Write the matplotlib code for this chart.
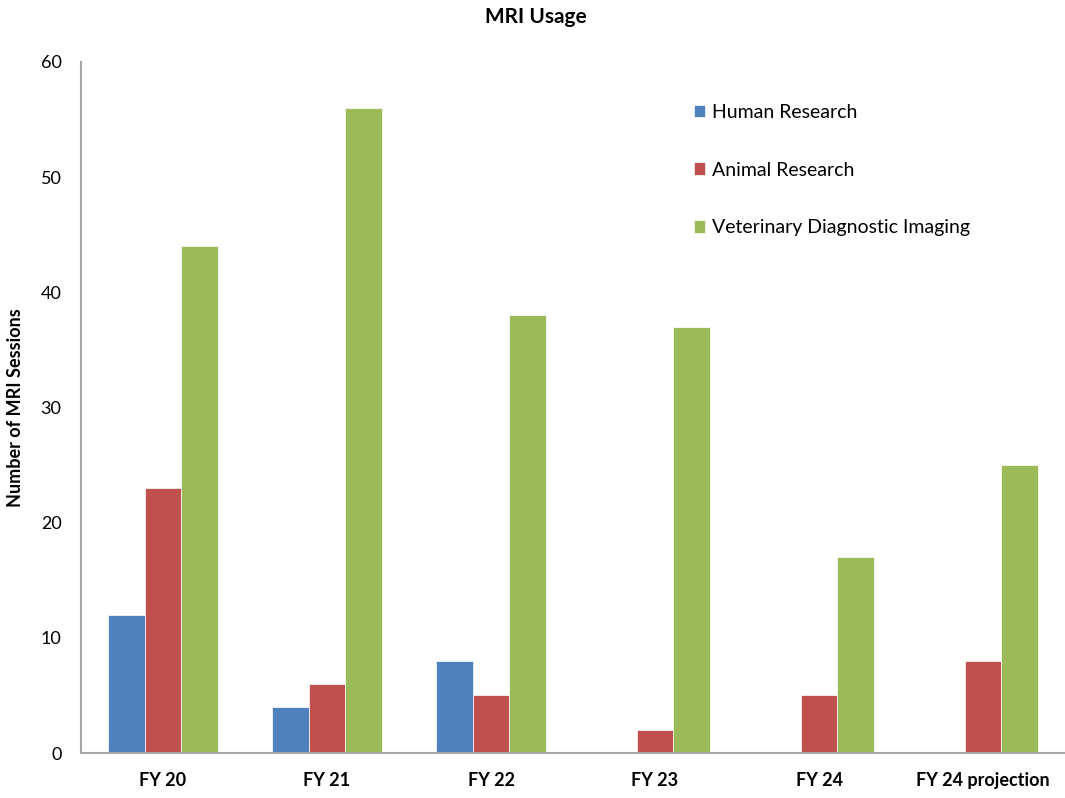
import numpy as np
import matplotlib.pyplot as plt

plt.rcParams['font.family'] = ['Lato', 'DejaVu Sans']

years = ['FY 20', 'FY 21', 'FY 22', 'FY 23', 'FY 24', 'FY 24 projection']
human = [12, 4, 8, 0, 0, 0]
animal = [23, 6, 5, 2, 5, 8]
vet = [44, 56, 38, 37, 17, 25]

series = [('Human Research', human, '#4F81BD'),
          ('Animal Research', animal, '#C0504D'),
          ('Veterinary Diagnostic Imaging', vet, '#9BBB59')]

fig = plt.figure(figsize=(10.65, 7.98), dpi=100)
ax = fig.add_axes([81/1065, 45/798, 984/1065, 691/798])

x = np.arange(len(years))
w = 0.224
for i, (name, vals, col) in enumerate(series):
    ax.bar(x + (i - 1) * w, vals, w, color=col, label=name,
           edgecolor='white', linewidth=0.5)

ax.set_xlim(-0.5, len(years) - 0.5)
ax.set_ylim(0, 60)
ax.set_yticks(range(0, 61, 10))
ax.set_xticks(x)
ax.set_xticklabels(years, fontweight='bold', fontsize=13)
ax.tick_params(axis='y', labelsize=13, length=0, pad=14)
ax.tick_params(axis='x', length=0, pad=14)

for s in ['top', 'right']:
    ax.spines[s].set_visible(False)
for s in ['left', 'bottom']:
    ax.spines[s].set_color('#A6A6A6')
    ax.spines[s].set_linewidth(1.5)

ax.set_ylabel('Number of MRI Sessions', fontweight='bold', fontsize=13, labelpad=12)
fig.text(536/1065, 1 - 17/798, 'MRI Usage', ha='center', va='center',
         fontweight='bold', fontsize=15)

ax.legend(loc='upper left', bbox_to_anchor=(0.605, 0.965), frameon=False,
          fontsize=14, labelspacing=2.1, handlelength=0.6, handleheight=0.6,
          handletextpad=0.35)

fig.savefig('out.png', dpi=100)
